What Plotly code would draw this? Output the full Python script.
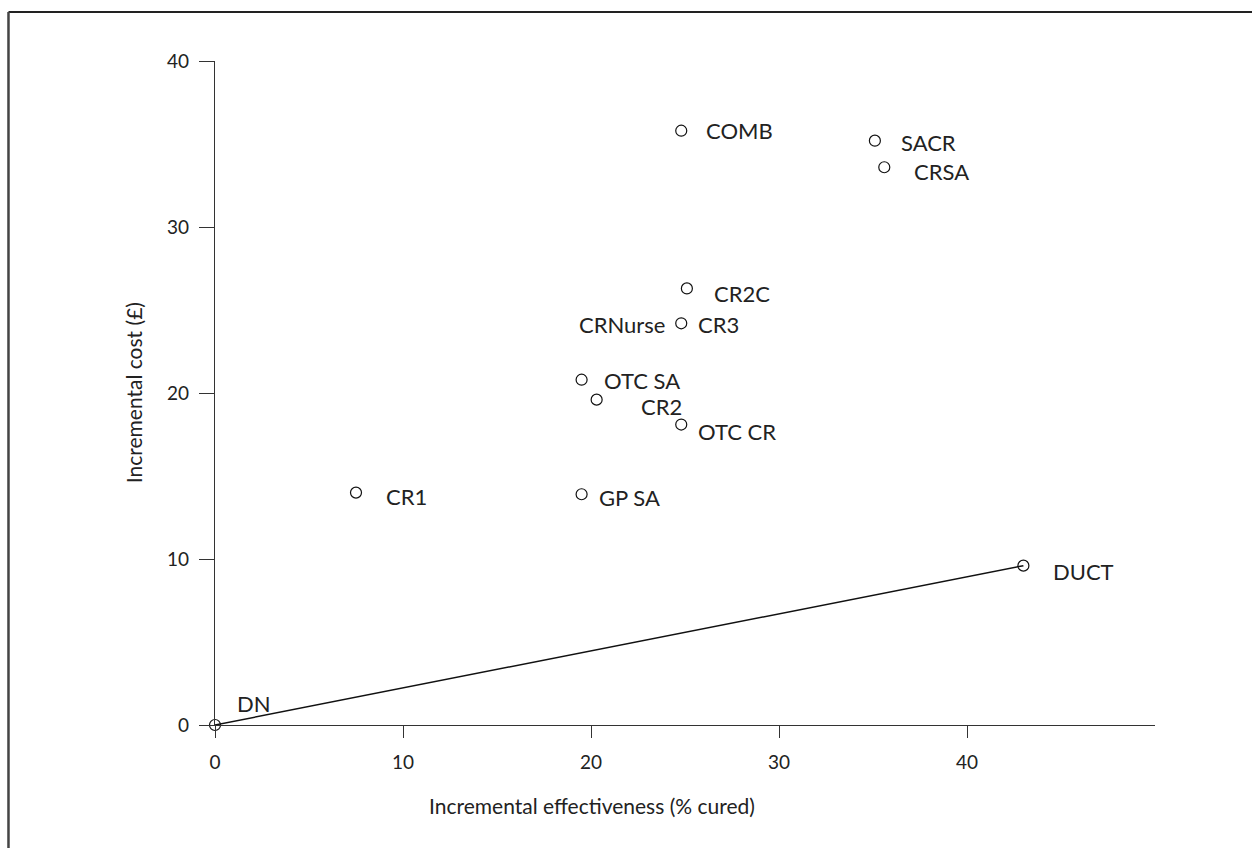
import plotly.graph_objects as go

# Data (incremental effectiveness % cured, incremental cost £)
names = ["DN", "CR1", "GP SA", "OTC SA", "CR2", "OTC CR", "CRNurse", "CR2C",
         "COMB", "SACR", "CRSA", "DUCT"]
effect = [0.0, 7.5, 19.5, 19.5, 20.3, 24.8, 24.8, 25.1, 24.8, 35.1, 35.6, 43.0]
cost = [0.0, 14.0, 13.9, 20.8, 19.6, 18.1, 24.2, 26.3, 35.8, 35.2, 33.6, 9.6]
label_text = ["DN", "CR1", "GP SA", "OTC SA", "CR2", "OTC CR", "CR3", "CR2C",
              "COMB", "SACR", "CRSA", "DUCT"]
frontier = ["DN", "DUCT"]
x_ticks = [0, 10, 20, 30, 40]
y_ticks = [0, 10, 20, 30, 40]

# label pixel offsets (style only): dx, dy (down positive)
label_offsets = {
    "DN": (20, -22), "CR1": (28, 4), "GP SA": (15, 3),
    "OTC SA": (20, 1), "CR2": (42, 7), "OTC CR": (15, 7),
    "CRNurse": (15, 1), "CR2C": (25, 5), "COMB": (23, 0),
    "SACR": (24, 2), "CRSA": (28, 4), "DUCT": (28, 6),
}

FONT = "Lato, 'Open Sans', sans-serif"
TXT = "#222222"

fig = go.Figure()

fx = [effect[names.index(n)] for n in frontier]
fy = [cost[names.index(n)] for n in frontier]
fig.add_trace(go.Scatter(x=fx, y=fy, mode="lines",
                         line=dict(color="#111111", width=1.5),
                         hoverinfo="skip", cliponaxis=False))
fig.add_trace(go.Scatter(x=effect, y=cost, mode="markers",
                         marker=dict(symbol="circle-open", size=11,
                                     color="#111111", line=dict(width=1.2)),
                         text=names, cliponaxis=False))

for n, x, y, t in zip(names, effect, cost, label_text):
    dx, dy = label_offsets[n]
    fig.add_annotation(x=x, y=y, text=t, showarrow=False, xanchor="left",
                       yanchor="middle", xshift=dx, yshift=-dy,
                       font=dict(family=FONT, size=22, color=TXT))
# CRNurse label to the left of the CR3 point
i = names.index("CRNurse")
fig.add_annotation(x=effect[i], y=cost[i], text="CRNurse", showarrow=False,
                   xanchor="right", yanchor="middle", xshift=-14, yshift=-1,
                   font=dict(family=FONT, size=22, color=TXT))

# axis titles
fig.add_annotation(xref="paper", yref="paper", x=0.401, y=-0.121,
                   text="Incremental effectiveness (% cured)", showarrow=False,
                   xanchor="center", yanchor="middle",
                   font=dict(family=FONT, size=21, color=TXT))
fig.add_annotation(xref="paper", yref="paper", x=-0.087, y=0.5,
                   text="Incremental cost (£)", showarrow=False, textangle=-90,
                   xanchor="center", yanchor="middle",
                   font=dict(family=FONT, size=21, color=TXT))

# outer frame: top and left lines only
fig.add_shape(type="line", xref="paper", yref="paper", x0=-0.2197, x1=1.11,
              y0=1.0738, y1=1.0738, line=dict(color="#222222", width=2))
fig.add_shape(type="line", xref="paper", yref="paper", x0=-0.2197, x1=-0.2197,
              y0=1.0738, y1=-0.19, line=dict(color="#444444", width=2.5))

fig.update_xaxes(range=[0, 50], tickvals=x_ticks, ticks="outside", ticklen=12,
                 tickwidth=1, tickcolor="#333333", showline=True,
                 linecolor="#333333", linewidth=1.2, showgrid=False,
                 zeroline=False, ticklabelstandoff=8,
                 tickfont=dict(family=FONT, size=19, color=TXT))
fig.update_yaxes(range=[0, 40], tickvals=y_ticks, ticks="outside", ticklen=15,
                 tickwidth=1, tickcolor="#333333", showline=True,
                 linecolor="#333333", linewidth=1.2, showgrid=False,
                 zeroline=False, ticklabelstandoff=6,
                 tickfont=dict(family=FONT, size=19, color=TXT))

fig.update_layout(width=1252, height=848, showlegend=False,
                  plot_bgcolor="white", paper_bgcolor="white",
                  margin=dict(l=215, r=97, t=61, b=123),
                  font=dict(family=FONT, color=TXT))

fig.write_html("out.html")
